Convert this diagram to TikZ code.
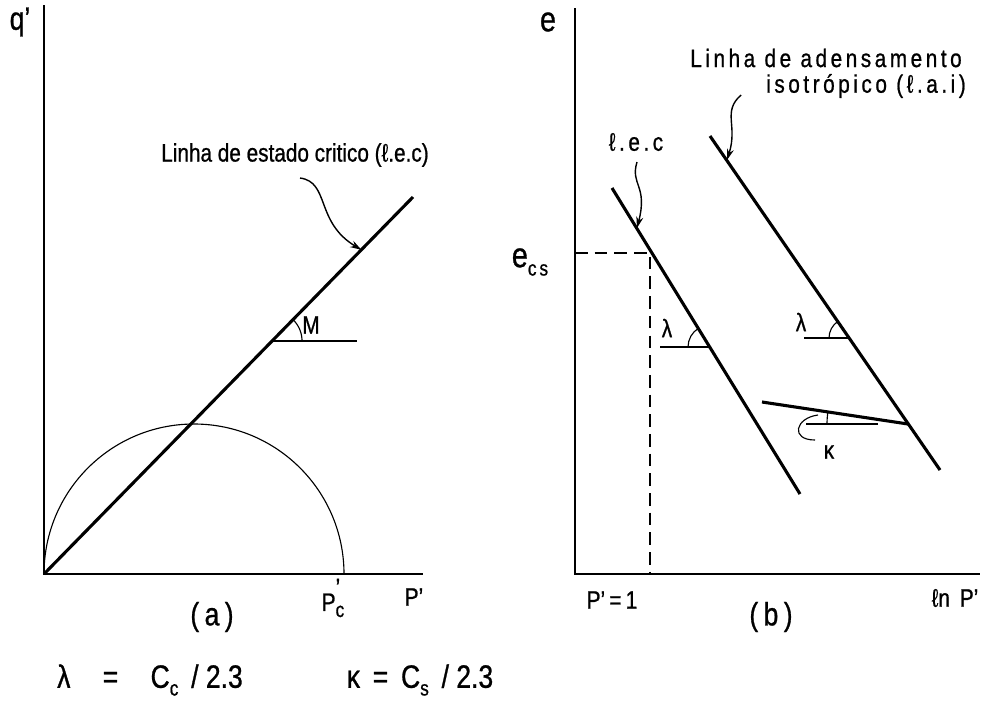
\documentclass[tikz,border=0pt]{standalone}
\usepackage{fontspec}
\setmainfont{Liberation Sans}[FakeStretch=0.82, FakeBold=0.8]
\usetikzlibrary{arrows.meta, calc}

\newcommand{\lowtxt}[1]{\raisebox{-0.45ex}{\fontsize{15}{16}\selectfont #1}}
\newcommand{\wide}{\addfontfeature{LetterSpace=14}}

\begin{document}
\begin{tikzpicture}[x=0.025cm, y=-0.025cm, >={Stealth[length=8pt,width=5pt]},
    font=\fontsize{18}{20}\selectfont,
    every node/.style={inner sep=1pt},
    axis/.style={line width=2pt},
    trend/.style={line width=2.2pt},
    thin/.style={line width=0.8pt},
    leader/.style={line width=1pt, ->},
    guide/.style={line width=1pt, dash pattern=on 9pt off 5pt}]
  \useasboundingbox (0,0) rectangle (1004,706);

  % (a) q'-p' plane
  \coordinate (oa) at (44,574);
  \coordinate (qtop) at (44,5);
  \coordinate (pa) at (423,574);
  \coordinate (csl) at (413,197);
  \coordinate (m) at ($(oa)!0.618!(csl)$);
  \coordinate (pc) at (344,574);
  \coordinate (cslhit) at ($(oa)!0.86!(csl)$);

  \draw[axis] (qtop) -- (oa) -- (pa);
  \draw[trend] (oa) -- (csl);
  \draw[thin] (pc) arc[start angle=0, end angle=-180, radius=150];
  \draw[thin] (m) -- ++(85,0);
  \draw[thin] (m) ++(30,0) arc[start angle=0, end angle=-45.6, radius=30];

  \node (q) at (20,22) {\fontsize{23}{24}\selectfont q'};
  \node (mlab) at (311,325) {M};
  \node (lecA) at (295,155) {Linha de estado critico (ℓ.e.c)};
  \draw[leader] (300,178) .. controls (330,182) and (315,222) .. (cslhit);
  \node (pclab) at (333,598) {P\rlap{\raisebox{1.1ex}{'}}\lowtxt{c}};
  \node (palab) at (414,597) {P'};
  \node (alab) at (212,617) {\fontsize{23}{24}\selectfont (\,a\,)};

  % (b) e-ln p' plane
  \coordinate (ob) at (575,574);
  \coordinate (etop) at (575,8);
  \coordinate (pb) at (980,574);
  \coordinate (lec1) at (612,188);
  \coordinate (lec2) at (800,494);
  \coordinate (cs) at (650,253);
  \coordinate (ecs) at (575,253);
  \coordinate (pone) at (650,574);
  \coordinate (lai1) at (710,136);
  \coordinate (lai2) at (940,470);
  \coordinate (k1) at (762,402);
  \coordinate (k2) at (908,424);
  \coordinate (lam1) at (710,347);
  \coordinate (lam2) at (849,338);
  \coordinate (lechit) at (637,228);
  \coordinate (laihit) at (727,160);

  \draw[axis] (etop) -- (ob) -- (pb);
  \draw[guide] (ecs) -- (cs) -- (pone);
  \draw[trend] (lec1) -- (lec2);
  \draw[trend] (lai1) -- (lai2);
  \draw[trend] (k1) -- (k2);

  \draw[thin] (lam1) -- ++(-50,0);
  \draw[thin] (lam1) ++(-22,0) arc[start angle=-180, end angle=-121.6, radius=22];
  \draw[thin] (lam2) -- ++(-45,0);
  \draw[thin] (lam2) ++(-20,0) arc[start angle=-180, end angle=-124.6, radius=20];
  \draw[thin] (k2) ++(-30,0) -- ++(-72,0);
  \draw[thin] (k2) ++(-81,0) arc[start angle=-180, end angle=-171.4, radius=81];

  \node (e) at (548,22) {\fontsize{25}{26}\selectfont e};
  \node (ecslab) at (530,262) {\fontsize{25}{26}\selectfont e\lowtxt{\wide cs}};
  \node (lamA) at (667,328) {λ};
  \node (lamB) at (801,322) {λ};
  \node (kap) at (829,452) {κ};
  \node (lecB) at (636,142) {\wide ℓ.e.c};
  \draw[leader] (637,162) .. controls (630,185) and (648,185) .. (lechit);
  \node (laiA) at (826,58) {\wide Linha de adensamento};
  \node (laiB) at (866,86) {\wide isotrópico (ℓ.a.i)};
  \draw[leader] (741,95) .. controls (722,112) and (738,125) .. (laihit);
  \draw[thin] (818,415) .. controls (795,418) and (790,440) .. (815,440);
  \node (ponelab) at (612,600) {P'\,=\,1};
  \node (blab) at (771,617) {\fontsize{23}{24}\selectfont (\,b\,)};
  \node (lnp) at (955,598) {ℓn\,\ P'};

  % relations
  \node (lamrel) at (150,680) {\fontsize{23}{24}\selectfont λ\quad=\quad C\lowtxt{c}\ \,/\ 2.3};
  \node (kaprel) at (420,680) {\fontsize{23}{24}\selectfont κ\ \,=\ \,C\lowtxt{s}\ \,/\ 2.3};
\end{tikzpicture}
\end{document}
